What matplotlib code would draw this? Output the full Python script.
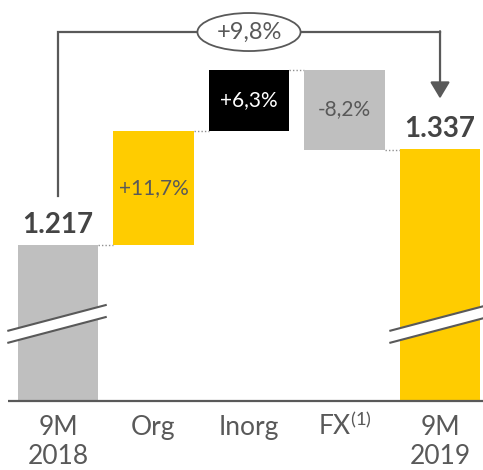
import matplotlib
matplotlib.use('Agg')
import matplotlib.pyplot as plt
from matplotlib.patches import Ellipse, Polygon

# ---- data ----
categories = ['9M\n2018', 'Org', 'Inorg', 'FX$^{(1)}$', '9M\n2019']
start_value = 1217
end_value = 1337
step_pct = [11.7, 6.3, -8.2]
total_growth_pct = 9.8

# ---- style ----
plt.rcParams['font.family'] = ['Lato', 'DejaVu Sans']
plt.rcParams['mathtext.fontset'] = 'custom'
plt.rcParams['mathtext.rm'] = 'Lato'
plt.rcParams['mathtext.it'] = 'Lato:italic'
plt.rcParams['mathtext.bf'] = 'Lato:bold'

GRAY_BAR = '#BFBFBF'
YELLOW = '#FFCC00'
BLACK = '#000000'
TXT = '#595959'
DARK = '#444444'
LINE = '#595959'

step_colors = [YELLOW, BLACK, GRAY_BAR]
step_text_colors = [TXT, 'white', TXT]

FLOOR = 1022
W = 0.838

fig = plt.figure(figsize=(4.83, 4.70), dpi=100)
ax = fig.add_axes([0, 0, 1, 1])
ax.set_xlim(-0.607, 4.45)
ax.set_ylim(936, 1523)
ax.axis('off')

def fmt_pct(p):
    return f"{p:+.1f}%".replace('.', ',')

def fmt_total(v):
    return f"{v:,.0f}".replace(',', '.')

# start bar
ax.bar(0, start_value - FLOOR, bottom=FLOOR, width=W, color=GRAY_BAR, zorder=2)
# end bar
ax.bar(4, end_value - FLOOR, bottom=FLOOR, width=W, color=YELLOW, zorder=2)

# steps
cum = start_value
levels = [start_value]
for i, p in enumerate(step_pct):
    d = start_value * p / 100.0
    bottom = cum if d > 0 else cum + d
    ax.bar(i + 1, abs(d), bottom=bottom, width=W, color=step_colors[i], zorder=2)
    ax.text(i + 1, bottom + abs(d) / 2, fmt_pct(p), ha='center', va='center',
            fontsize=15, color=step_text_colors[i], zorder=3)
    cum += d
    levels.append(cum)

# dotted connectors
for i, lv in enumerate(levels):
    ax.plot([i + W / 2, i + 1 - W / 2], [lv, lv], linestyle=(0, (1, 1.5)),
            color='#909090', lw=1.0, zorder=1)

# total labels
ax.text(0, start_value + 15, fmt_total(start_value), ha='center', va='baseline',
        fontsize=20, fontweight='bold', color=DARK)
ax.text(4, end_value + 15, fmt_total(end_value), ha='center', va='baseline',
        fontsize=20, fontweight='bold', color=DARK)

# axis baseline
ax.plot([-0.52, 4.45], [FLOOR, FLOOR], color=LINE, lw=1.6, zorder=4,
        solid_capstyle='butt')

# break marks
for xc in (0, 4):
    x0, x1 = xc - 0.52, xc + 0.50
    ya0, ya1 = 1110, 1142
    gap = 15
    poly = Polygon([[x0, ya0], [x1, ya1], [x1, ya1 - gap], [x0, ya0 - gap]],
                   closed=True, facecolor='white', edgecolor='none', zorder=5)
    ax.add_patch(poly)
    ax.plot([x0, x1], [ya0, ya1], color=LINE, lw=1.5, zorder=6)
    ax.plot([x0, x1], [ya0 - gap, ya1 - gap], color=LINE, lw=1.5, zorder=6)

# bracket with arrow
BR_Y = 1483
ax.plot([0, 0, 4], [1278, BR_Y, BR_Y], color=LINE, lw=1.6, zorder=3,
        solid_joinstyle='miter')
ax.annotate('', xy=(4, 1400), xytext=(4, BR_Y + 1),
            arrowprops=dict(arrowstyle='-|>,head_length=0.5,head_width=0.3',
                            mutation_scale=20, lw=1.6, color=LINE,
                            shrinkA=0, shrinkB=0), zorder=3)
ell = Ellipse((2, BR_Y), width=1.08, height=47.5, facecolor='white',
              edgecolor=LINE, lw=1.3, zorder=4)
ax.add_patch(ell)
ax.text(2, BR_Y, fmt_pct(total_growth_pct), ha='center', va='center',
        fontsize=17, color=TXT, zorder=5)

# category labels
for i, lbl in enumerate(categories):
    for k, line in enumerate(lbl.split('\n')):
        ax.text(i, 979.5 - 36.0 * k, line, ha='center', va='baseline',
                fontsize=19, color=TXT)

fig.savefig('out.png', dpi=100)
